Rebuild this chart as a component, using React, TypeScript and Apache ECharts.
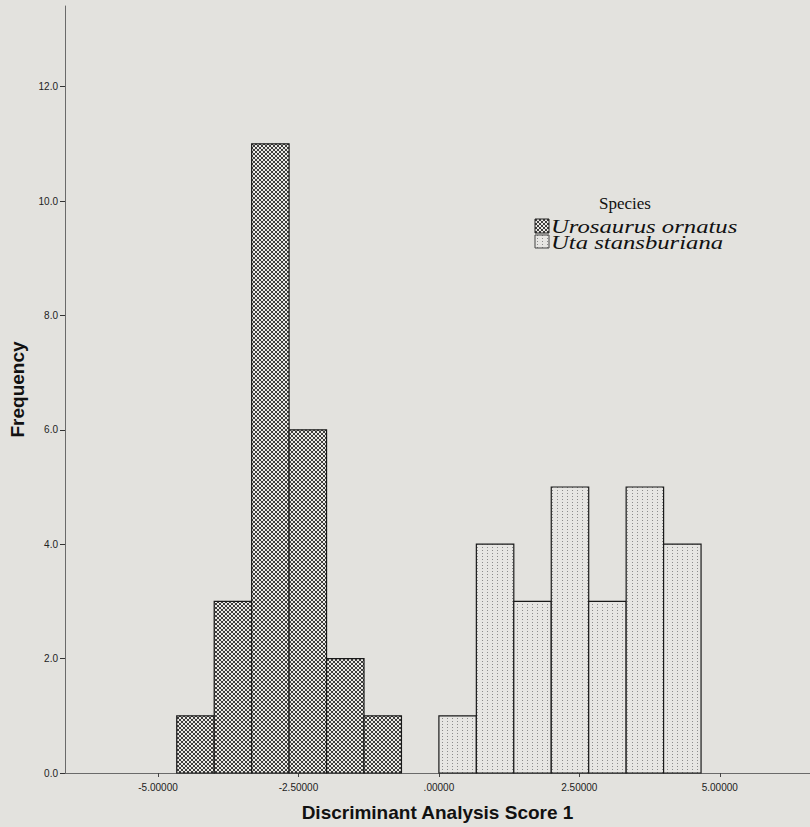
import React, { useEffect, useRef } from "react";
import * as echarts from "echarts";

// Histogram bins (edges in score units) and counts
const binStarts = [-14 / 3, -4, -10 / 3, -8 / 3, -2, -4 / 3, 0, 2 / 3, 4 / 3, 2, 8 / 3, 10 / 3, 4];
const binWidth = 2 / 3;
const urosaurusCounts = [1, 3, 11, 6, 2, 1];
const utaCounts = [1, 4, 3, 5, 3, 5, 4];
const xTicks = [-5, -2.5, 0, 2.5, 5];
const yTicks = [0, 2, 4, 6, 8, 10, 12];
const speciesNames = ["Urosaurus ornatus", "Uta stansburiana"];

const BG = "#e3e2de";

const crossSvg =
  '<svg xmlns="http://www.w3.org/2000/svg" width="4" height="4">' +
  '<rect width="4" height="4" fill="#eceae6"/>' +
  '<path d="M-1,-1 L5,5 M5,-1 L-1,5 M-1,3 L1,5 M3,-1 L5,1 M-1,1 L1,-1 M3,5 L5,3" stroke="#111" stroke-width="0.8" fill="none"/>' +
  "</svg>";
const dotSvg =
  '<svg xmlns="http://www.w3.org/2000/svg" width="5" height="3">' +
  '<rect width="5" height="3" fill="#e7e6e3"/>' +
  '<rect x="2" y="1" width="1" height="1" fill="#8c8c8c"/>' +
  "</svg>";
const toUrl = (s: string) => "data:image/svg+xml;charset=utf-8," + encodeURIComponent(s);

const crossPattern = () => ({ image: toUrl(crossSvg), repeat: "repeat", imageWidth: 4, imageHeight: 4 });
const dotPattern = () => ({ image: toUrl(dotSvg), repeat: "repeat", imageWidth: 5, imageHeight: 3 });

export default function App() {
  const ref = useRef<HTMLDivElement>(null);
  useEffect(() => {
    document.body.style.margin = "0";
    const chart = echarts.init(ref.current!, null, { renderer: "svg" });

    const uroData = urosaurusCounts.map((c, i) => [binStarts[i], binStarts[i] + binWidth, c]);
    const utaData = utaCounts.map((c, i) => [binStarts[i + 6], binStarts[i + 6] + binWidth, c]);

    const makeRender = (patternFn: () => any) => (params: any, api: any) => {
      const s = api.value(0);
      const e = api.value(1);
      const c = api.value(2);
      const p0 = api.coord([s, c]);
      const p1 = api.coord([e, 0]);
      return {
        type: "rect",
        shape: { x: p0[0], y: p0[1], width: p1[0] - p0[0], height: p1[1] - p0[1] },
        style: { fill: patternFn(), stroke: "#1a1a1a", lineWidth: 1.2 },
      };
    };

    const legendX = 535;
    chart.setOption({
      animation: false,
      backgroundColor: BG,
      grid: { left: 62, right: 0, top: 6, bottom: 52 },
      xAxis: {
        type: "value",
        min: -6.656,
        max: 6.606,
        name: "Discriminant Analysis Score 1",
        nameLocation: "middle",
        nameGap: 30,
        nameTextStyle: { fontFamily: "Liberation Sans, Arial", fontWeight: "bold", fontSize: 19, color: "#111" },
        splitLine: { show: false },
        axisLine: { onZero: false, lineStyle: { color: "#6a6a6a", width: 1 } },
        axisTick: { customValues: xTicks, length: 4, lineStyle: { color: "#444" } },
        axisLabel: {
          customValues: xTicks,
          fontFamily: "Liberation Sans, Arial",
          fontSize: 10,
          color: "#222",
          margin: 9,
          formatter: (v: number) => (v === 0 ? ".00000" : v.toFixed(5)),
        },
      },
      yAxis: {
        type: "value",
        min: 0,
        max: 13.41,
        name: "Frequency",
        nameLocation: "middle",
        nameGap: 38,
        nameTextStyle: { fontFamily: "Liberation Sans, Arial", fontWeight: "bold", fontSize: 19, color: "#111" },
        splitLine: { show: false },
        axisLine: { show: true, onZero: false, lineStyle: { color: "#6a6a6a", width: 1 } },
        axisTick: { show: true, customValues: yTicks, length: 5, lineStyle: { color: "#333" } },
        axisLabel: {
          customValues: yTicks,
          fontFamily: "Liberation Sans, Arial",
          fontSize: 10,
          color: "#222",
          margin: 7,
          formatter: (v: number) => v.toFixed(1),
        },
      },
      series: [
        { type: "custom", name: speciesNames[0], data: uroData, renderItem: makeRender(crossPattern), encode: { x: [0, 1], y: 2 } },
        { type: "custom", name: speciesNames[1], data: utaData, renderItem: makeRender(dotPattern), encode: { x: [0, 1], y: 2 } },
      ],
      graphic: [
        {
          type: "text",
          x: 625,
          y: 203,
          style: {
            text: "Species",
            font: '17px "Liberation Serif", "Times New Roman", serif',
            fill: "#111",
            align: "center",
            verticalAlign: "middle",
          },
        },
        {
          type: "rect",
          shape: { x: legendX, y: 219, width: 14, height: 14 },
          style: { fill: crossPattern(), stroke: "#222", lineWidth: 1 },
        },
        {
          type: "rect",
          shape: { x: legendX, y: 235, width: 14, height: 13 },
          style: { fill: dotPattern(), stroke: "#444", lineWidth: 1 },
        },
        {
          type: "text",
          x: 551,
          y: 227,
          scaleX: 1.3,
          style: {
            text: speciesNames[0],
            font: 'italic 19px "Liberation Serif", "Times New Roman", serif',
            fill: "#111",
            align: "left",
            verticalAlign: "middle",
          },
        },
        {
          type: "text",
          x: 551,
          y: 243,
          scaleX: 1.3,
          style: {
            text: speciesNames[1],
            font: 'italic 19px "Liberation Serif", "Times New Roman", serif',
            fill: "#111",
            align: "left",
            verticalAlign: "middle",
          },
        },
      ],
    });
    return () => chart.dispose();
  }, []);
  return <div ref={ref} style={{ position: "absolute", left: 0, top: 0, width: 810, height: 827, background: BG }} />;
}
